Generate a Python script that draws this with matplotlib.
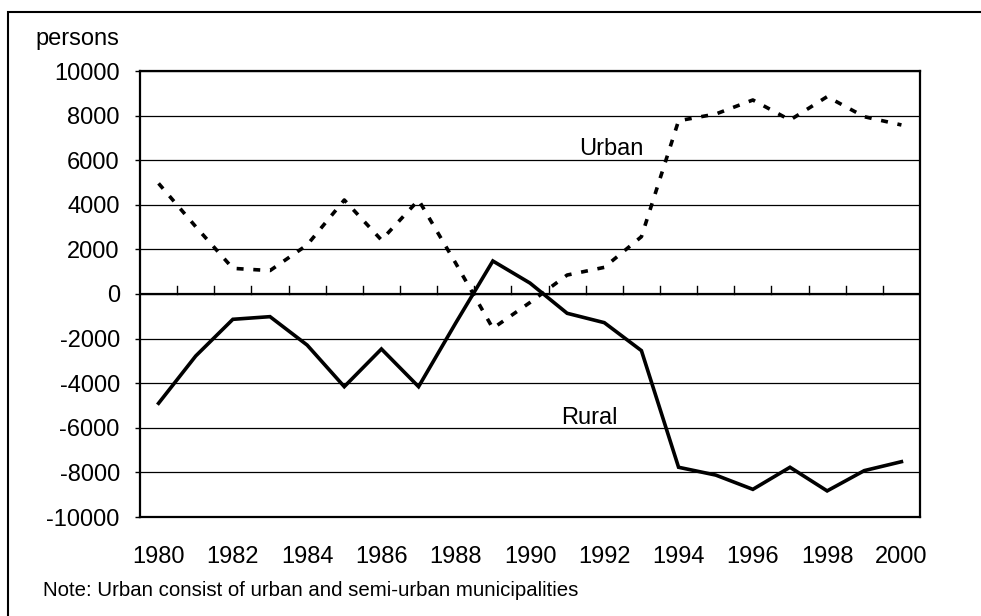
import matplotlib
matplotlib.use("Agg")
import matplotlib.pyplot as plt
import numpy as np
from matplotlib.patches import Rectangle

plt.rcParams['font.family'] = ['Liberation Sans', 'DejaVu Sans']
plt.rcParams['lines.scale_dashes'] = False

years = list(range(1980, 2001))
urban = [4960, 3020, 1150, 1050, 2200, 4215, 2420, 4215, 1380, -1540, -380,
         850, 1195, 2570, 7770, 8070, 8700, 7800, 8850, 7950, 7580]
rural = [-4900, -2780, -1135, -1016, -2290, -4155, -2466, -4155, -1300, 1480, 490,
         -865, -1285, -2540, -7770, -8120, -8760, -7770, -8830, -7920, -7520]
yticks = list(range(-10000, 10001, 2000))
xlabels = [str(y) for y in years[::2]]

fig = plt.figure(figsize=(9.81, 6.16), dpi=100)
ax = fig.add_axes([140/981, 1-517/616, 780/981, 446/616])

x = np.arange(len(years))
ax.plot(x, urban, color='black', lw=2.6, dashes=(5, 7), dash_capstyle='butt')
ax.plot(x, rural, color='black', lw=2.6, solid_joinstyle='miter')

ax.set_xlim(-0.5, len(years) - 0.5)
ax.set_ylim(-10000, 10000)
ax.set_yticks(yticks)
ax.set_yticklabels([str(v) for v in yticks])
for v in yticks:
    ax.axhline(v, color='black', lw=0.9, zorder=0)
ax.axhline(0, color='black', lw=1.6, zorder=1)

# category boundary ticks on the zero line
for b in x[:-1] + 0.5:
    ax.plot([b, b], [0, 360], color='black', lw=1.0)

ax.set_xticks(x[::2])
ax.set_xticklabels(xlabels)
ax.tick_params(axis='x', length=0, pad=21, labelsize=17)
ax.tick_params(axis='y', length=3.5, width=1, pad=11, labelsize=17)
for s in ax.spines.values():
    s.set_linewidth(1.6)

ax.text(12.2, 6500, 'Urban', fontsize=17, ha='center', va='center')
ax.text(11.6, -5560, 'Rural', fontsize=17, ha='center', va='center')

fig.text(35/981, 1-39/616, 'persons', fontsize=17, ha='left', va='center')
fig.text(43/981, 1-590/616, 'Note: Urban consist of urban and semi-urban municipalities',
         fontsize=14.7, ha='left', va='center')

fig.patches.append(Rectangle((8/981, -0.1), 1.2, 1.1 - 12/616, transform=fig.transFigure,
                             fill=False, edgecolor='black', lw=1.5))

fig.savefig('out.png', dpi=100)
